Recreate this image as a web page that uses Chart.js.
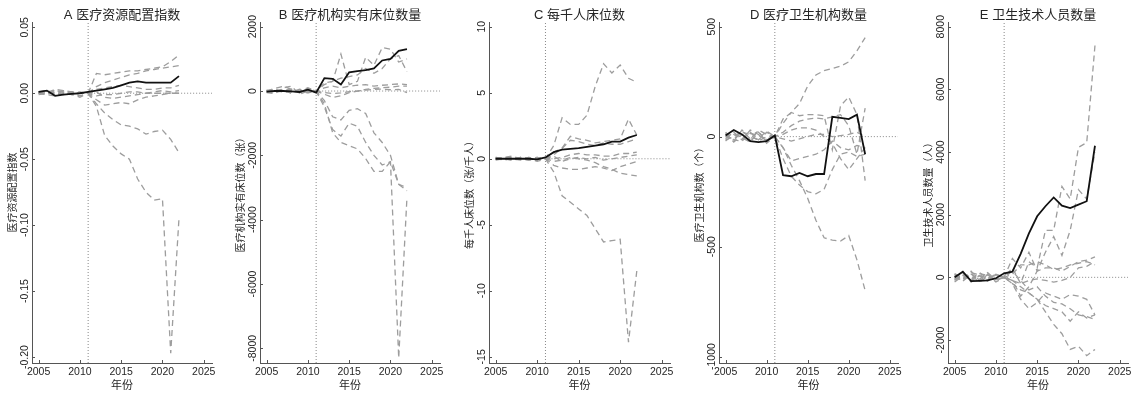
<!DOCTYPE html>
<html><head><meta charset="utf-8">
<script src="https://cdn.jsdelivr.net/npm/chart.js@4.4.1/dist/chart.umd.min.js"></script>
<style>
html,body{margin:0;padding:0;background:#fff;width:1141px;height:394px;overflow:hidden;position:relative}
canvas{position:absolute;top:0}
</style></head><body>
<script>
// ---------- data ----------
const years = [2005,2006,2007,2008,2009,2010,2011,2012,2013,2014,2015,2016,2017,2018,2019,2020,2021,2022];
const xTickValues = [2005,2010,2015,2020,2025];
const xTickLabels = ['2005','2010','2015','2020','2025'];
const xTitle = '年份';
const treatYear = 2011;

const titleA = 'A 医疗资源配置指数';
const yTitleA = '医疗资源配置指数';
const yTickValuesA = [0.05,0,-0.05,-0.10,-0.15,-0.20];
const yTickLabelsA = ['0.05','0.00','-0.05','-0.10','-0.15','-0.20'];
const treatedA = [0.001,0.002,-0.002,-0.001,-0.0005,0.000,0.001,0.002,0.003,0.004,0.006,0.008,0.009,0.008,0.008,0.008,0.008,0.013];
const placeboA = [
  [0.000,0.001,0.002,0.001,0.000,0.001,0.000,0.015,0.014,0.015,0.016,0.017,0.017,0.018,0.019,0.020,0.024,0.029],
  [-0.001,0.000,0.001,0.000,0.001,0.000,0.000,0.005,0.008,0.010,0.012,0.014,0.015,0.017,0.018,0.019,0.020,0.021],
  [0.001,0.000,0.003,0.002,0.001,0.000,0.000,0.003,0.004,0.005,0.006,0.005,0.004,0.003,0.003,0.004,0.004,0.006],
  [0.000,-0.001,-0.002,0.000,-0.001,-0.003,0.000,-0.002,-0.001,-0.001,0.000,0.001,0.001,0.000,0.001,0.002,0.001,0.002],
  [0.001,0.002,0.000,-0.001,0.001,0.000,0.000,-0.005,-0.009,-0.008,-0.007,-0.008,-0.005,-0.003,-0.002,-0.001,0.000,0.000],
  [0.000,0.001,-0.001,0.000,0.000,0.000,0.000,-0.008,-0.015,-0.020,-0.024,-0.025,-0.027,-0.031,-0.029,-0.028,-0.035,-0.045],
  [0.000,-0.001,0.002,0.001,-0.001,0.000,0.000,-0.010,-0.032,-0.040,-0.046,-0.050,-0.065,-0.075,-0.081,-0.080,-0.197,-0.095],
  [0.001,0.000,0.000,0.002,0.000,-0.002,0.000,0.001,-0.003,-0.004,-0.003,-0.002,-0.001,0.000,0.000,0.000,0.000,0.000]
];

const titleB = 'B 医疗机构实有床位数量';
const yTitleB = '医疗机构实有床位数（张）';
const yTickValuesB = [2000,0,-2000,-4000,-6000,-8000];
const yTickLabelsB = ['2000','0','-2000','-4000','-6000','-8000'];
const treatedB = [-20,0,0,-10,-30,40,-50,400,380,200,580,620,650,700,950,1000,1250,1300];
const placeboB = [
  [0,80,150,50,-60,80,0,200,300,1150,200,300,1050,800,1350,1300,900,1000],
  [-50,-80,100,150,-100,0,0,250,300,400,450,500,700,550,700,1000,1100,600],
  [30,-20,60,-80,40,-50,0,100,150,100,150,180,200,150,180,200,220,200],
  [10,50,-30,20,-40,30,0,-50,-80,-60,-20,0,30,50,60,40,50,-50],
  [-40,20,40,-20,0,100,0,-300,-800,-900,-600,-550,-700,-1300,-1600,-2000,-2900,-3000],
  [20,-30,-10,50,-20,-60,0,-500,-1200,-1400,-1000,-1100,-1600,-2000,-2300,-2200,-8300,-3300],
  [0,60,-40,-30,60,-20,0,-400,-1300,-1600,-1700,-1800,-2100,-2500,-2500,-2200,-2900,-3100],
  [-20,-40,20,60,-10,40,0,-100,-200,-150,-50,0,50,80,100,120,150,150]
];

const titleC = 'C 每千人床位数';
const yTitleC = '每千人床位数（张/千人）';
const yTickValuesC = [10,5,0,-5,-10,-15];
const yTickLabelsC = ['10','5','0','-5','-10','-15'];
const treatedC = [0,0,0,0,0,-0.05,0.1,0.5,0.7,0.75,0.8,0.9,1.0,1.1,1.3,1.3,1.6,1.8];
const placeboC = [
  [0.1,0,-0.1,0.1,0,-0.1,0,1.0,3.1,2.6,2.6,3.3,5.5,7.2,6.5,7.1,6.1,5.8],
  [0,0.1,0.2,0,-0.1,0,0,0.5,0.8,1.7,1.5,1.4,1.2,1.3,1.4,1.5,3.0,1.8],
  [-0.1,0,0.1,0,0.1,0,0,0.3,0.8,1.4,1.3,1.1,1.0,1.2,1.1,1.1,1.3,1.5],
  [0,-0.1,0,0.1,0,-0.2,0,0.0,0.1,0.3,0.4,0.3,0.3,0.2,0.2,0.4,0.4,0.5],
  [0.1,0,-0.1,0,0,0.1,0,-0.2,-0.1,0.1,0,-0.1,-0.3,-0.6,-0.8,-1.1,-1.2,-1.3],
  [0,0.1,0,-0.1,0.1,0,0,-0.5,-0.7,-0.8,-0.8,-0.7,-0.6,-0.7,-0.9,-0.6,-0.4,-0.2],
  [0,0,0.1,0,-0.1,0,0,-1.0,-2.8,-3.3,-3.8,-4.3,-5.3,-6.3,-6.2,-6.1,-13.9,-8.5],
  [0,0,-0.1,0.1,0,0.1,0,0.2,-0.2,0,0.1,0,0.1,-0.1,0,0.1,0.2,0.3]
];

const titleD = 'D 医疗卫生机构数量';
const yTitleD = '医疗卫生机构数（个）';
const yTickValuesD = [500,0,-500,-1000];
const yTickLabelsD = ['500','0','-500','-1000'];
const treatedD = [5,30,10,-20,-25,-20,5,-175,-180,-165,-180,-170,-170,90,85,80,100,-80];
const placeboD = [
  [0,-10,20,10,-20,0,0,80,110,150,230,280,300,310,320,340,390,450],
  [-10,20,-15,30,10,-20,0,60,110,95,100,100,95,-60,140,180,100,-200],
  [10,-20,30,-10,25,-30,0,20,50,70,80,85,80,90,100,50,-80,130],
  [-20,10,-10,20,-15,20,0,10,30,40,40,30,0,-30,-100,-150,-100,-50],
  [15,-25,10,-20,30,10,0,-10,-20,-10,0,10,10,0,5,10,20,0],
  [-15,0,25,-5,-10,25,0,-50,-110,-100,-90,-80,-60,-20,-50,-60,-40,-50],
  [20,-15,-20,15,5,-10,0,-100,-180,-220,-250,-260,-240,-150,-80,-70,-90,-80],
  [0,15,-5,-25,20,-15,0,-50,-130,-200,-280,-380,-460,-470,-475,-450,-560,-700]
];

const titleE = 'E 卫生技术人员数量';
const yTitleE = '卫生技术人员数量（人）';
const yTickValuesE = [8000,6000,4000,2000,0,-2000];
const yTickLabelsE = ['8000','6000','4000','2000','0','-2000'];
const treatedE = [0,180,-120,-110,-100,-30,130,180,750,1400,1950,2270,2550,2290,2210,2320,2430,4200];
const placeboE = [
  [0,-100,150,80,-50,100,0,300,-200,500,300,1500,1500,2900,2500,4150,4300,7400],
  [-150,50,-80,120,60,-100,0,-100,-600,-300,200,800,1300,700,1500,2800,2500,4000],
  [100,-50,200,-100,80,-50,0,600,300,800,200,300,300,200,350,500,550,650],
  [-50,120,-150,50,-120,80,0,100,400,400,500,400,250,300,400,450,500,400],
  [50,-120,100,-60,150,-80,0,-100,-200,-100,-50,-100,-150,-100,0,300,350,500],
  [-100,80,-50,150,-30,60,0,-200,-700,-1000,-800,-500,-600,-700,-550,-600,-700,-1200],
  [80,-60,120,-120,100,-150,0,-100,-300,-500,-700,-900,-1000,-1100,-1400,-1100,-1300,-1200],
  [-80,150,-100,60,-80,100,0,-200,-400,-500,-700,-1100,-1500,-1800,-2300,-2200,-2500,-2300],
  [120,-30,60,-150,30,-60,0,200,-100,-400,-300,-600,-800,-850,-1000,-1200,-1250,-1350]
];

// ---------- layout / style ----------
const FONT = '"Liberation Sans", "Noto Sans CJK SC", sans-serif';
const TEXT = '#262626';
const AXIS = '#555';
const TICK_SIZE = 10.5;
const Y_BOX = 40;
const RIGHT_PAD = 14;
const X_MIN = 2004.2, X_MAX = 2026;

const panels = [
  {title:titleA, yTitle:yTitleA, yv:yTickValuesA, yl:yTickLabelsA, t:treatedA, p:placeboA, min:-0.2045, max:0.054, left:32, w:180},
  {title:titleB, yTitle:yTitleB, yv:yTickValuesB, yl:yTickLabelsB, t:treatedB, p:placeboB, min:-8457, max:2146, left:260, w:180},
  {title:titleC, yTitle:yTitleC, yv:yTickValuesC, yl:yTickLabelsC, t:treatedC, p:placeboC, min:-15.47, max:10.36, left:489, w:181},
  {title:titleD, yTitle:yTitleD, yv:yTickValuesD, yl:yTickLabelsD, t:treatedD, p:placeboD, min:-1029, max:521, left:719, w:179},
  {title:titleE, yTitle:yTitleE, yv:yTickValuesE, yl:yTickLabelsE, t:treatedE, p:placeboE, min:-2734, max:8150, left:948, w:180}
];

const measureCtx = document.createElement('canvas').getContext('2d');
measureCtx.font = TICK_SIZE + 'px ' + FONT;

const inwardTicks = {
  id:'inwardTicks',
  afterDraw(chart){
    const {ctx, chartArea, scales} = chart;
    ctx.save();
    ctx.strokeStyle = AXIS; ctx.lineWidth = 1;
    ctx.beginPath();
    scales.x.ticks.forEach(t => {
      const px = Math.round(scales.x.getPixelForValue(t.value)) + 0.5;
      ctx.moveTo(px, chartArea.bottom); ctx.lineTo(px, chartArea.bottom - 3);
    });
    scales.y.ticks.forEach(t => {
      const py = Math.round(scales.y.getPixelForValue(t.value)) + 0.5;
      ctx.moveTo(chartArea.left, py); ctx.lineTo(chartArea.left + 3, py);
    });
    ctx.stroke();
    ctx.restore();
  }
};

panels.forEach(pn => {
  const cv = document.createElement('canvas');
  const W = Y_BOX + pn.w + RIGHT_PAD, H = 394;
  cv.width = W; cv.height = H;
  cv.style.left = (pn.left - Y_BOX) + 'px';
  cv.style.width = W + 'px'; cv.style.height = H + 'px';
  document.body.appendChild(cv);

  const widest = Math.max(...pn.yl.map(s => measureCtx.measureText(s).width));
  const yPad = 7 - widest / 2;

  const ds = [];
  ds.push({data: years.map((y,i)=>({x:y, y:pn.t[i]})), borderColor:'#111', borderWidth:1.8, pointRadius:0, tension:0, order:0});
  pn.p.forEach(arr => ds.push({data: years.map((y,i)=>({x:y, y:arr[i]})), borderColor:'#9d9d9d', borderWidth:1.3, borderDash:[6,4], pointRadius:0, tension:0, order:1}));
  ds.push({data:[{x:treatYear,y:pn.min},{x:treatYear,y:pn.max}], borderColor:'#888', borderWidth:1, borderDash:[1,2], pointRadius:0, order:2});
  ds.push({data:[{x:treatYear,y:0},{x:X_MAX,y:0}], borderColor:'#888', borderWidth:1, borderDash:[1,2], pointRadius:0, order:2});

  new Chart(cv, {
    type:'line',
    data:{datasets:ds},
    options:{
      responsive:false, animation:false, devicePixelRatio:1,
      layout:{padding:{left:0, right:RIGHT_PAD, top:0, bottom:0}},
      plugins:{
        legend:{display:false}, tooltip:{enabled:false},
        title:{display:true, text:pn.title, color:TEXT, fullSize:false,
               font:{family:FONT, size:13, weight:'normal', lineHeight:1}, padding:{top:8.5, bottom:0.5}}
      },
      scales:{
        x:{type:'linear', min:X_MIN, max:X_MAX,
           grid:{display:false, drawTicks:false},
           border:{display:true, color:AXIS, width:1},
           ticks:{color:TEXT, font:{family:FONT, size:TICK_SIZE}, padding:3, maxRotation:0, autoSkip:false,
                  callback:(v,i)=>xTickLabels[i]},
           afterBuildTicks:s=>{ s.ticks = xTickValues.map(v=>({value:v})); },
           afterFit:s=>{ s.height = 31; },
           title:{display:true, text:xTitle, color:TEXT, font:{family:FONT, size:11}, padding:{top:0, bottom:1}}
        },
        y:{type:'linear', min:pn.min, max:pn.max,
           grid:{display:false, drawTicks:false},
           border:{display:true, color:AXIS, width:1},
           ticks:{color:TEXT, font:{family:FONT, size:TICK_SIZE}, minRotation:90, maxRotation:90, crossAlign:'center',
                  padding:yPad, autoSkip:false, callback:(v,i)=>pn.yl[i]},
           afterBuildTicks:s=>{ s.ticks = pn.yv.map(v=>({value:v})); },
           afterFit:s=>{ s.width = Y_BOX; },
           title:{display:true, text:pn.yTitle, color:TEXT, font:{family:FONT, size:10}, padding:{top:15, bottom:0}}
        }
      }
    },
    plugins:[inwardTicks]
  });
});
</script>
</body></html>
